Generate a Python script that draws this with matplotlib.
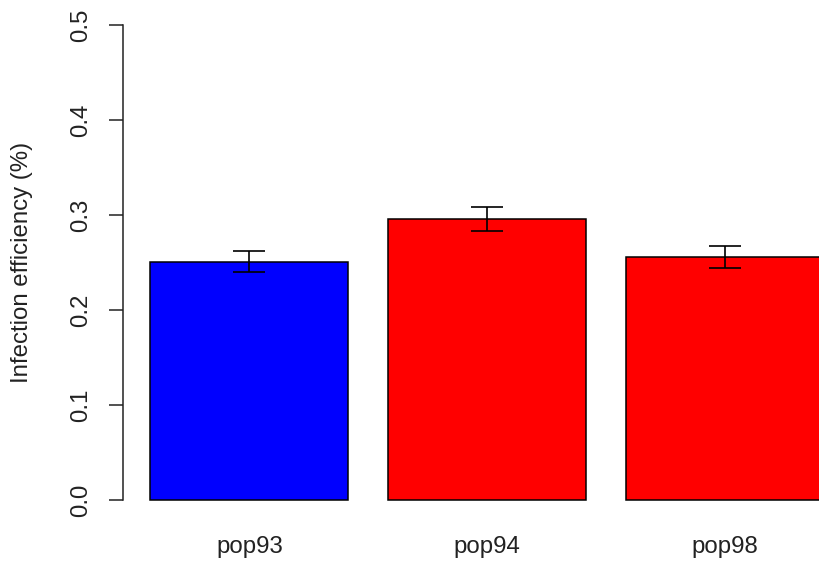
import matplotlib
matplotlib.use("Agg")
import matplotlib.pyplot as plt
import numpy as np

categories = ["pop93", "pop94", "pop98"]
values = [0.251, 0.296, 0.256]
errors = [0.0113, 0.0125, 0.0118]
colors = ["#0000ff", "#ff0000", "#ff0000"]
yticks = [0.0, 0.1, 0.2, 0.3, 0.4, 0.5]
ytick_labels = ["0.0", "0.1", "0.2", "0.3", "0.4", "0.5"]

plt.rcParams['font.family'] = ['Liberation Sans', 'DejaVu Sans']
FS = 17.3

W, H = 820, 564
fig = plt.figure(figsize=(W / 100, H / 100), dpi=100)

# pixel layout
x_left_px = 123.5
px_per_unit_x = 198.0
xlim = (0.064, 3.736)
x_right_px = x_left_px + (xlim[1] - xlim[0]) * px_per_unit_x
ylim = (-0.02, 0.52)
y0_px = 500.0
px_per_unit_y = 950.0
y_bottom_px = y0_px - (ylim[0] - 0) * px_per_unit_y
y_top_px = y0_px - ylim[1] * px_per_unit_y

ax = fig.add_axes([x_left_px / W, 1 - y_bottom_px / H,
                   (x_right_px - x_left_px) / W, (y_bottom_px - y_top_px) / H])

centers = [0.7 + 1.2 * i for i in range(len(categories))]
ax.bar(centers, values, width=1.0, color=colors, edgecolor="black", linewidth=1.1)
ax.errorbar(centers, values, yerr=errors, fmt="none", ecolor="black",
            elinewidth=1.2, capsize=11.2, capthick=1.2)

ax.set_xlim(*xlim)
ax.set_ylim(*ylim)

for s in ["top", "right", "bottom"]:
    ax.spines[s].set_visible(False)
ax.spines["left"].set_bounds(0, 0.5)
ax.spines["left"].set_linewidth(1.1)
ax.spines["left"].set_color("#222222")

ax.set_yticks(yticks)
ax.set_yticklabels(ytick_labels, rotation=90, va="center", ha="center",
                   fontsize=FS, color="#222222")
ax.tick_params(axis="y", length=10.4, width=1.1, color="#222222", pad=20)

ax.set_xticks(centers)
ax.set_xticklabels(categories, fontsize=FS, color="#222222")
ax.tick_params(axis="x", length=0, pad=12)

ax.set_ylabel("Infection efficiency (%)", fontsize=FS, color="#222222")
ax.yaxis.label.set_va("center")
ax.yaxis.set_label_coords((22 - x_left_px) / (x_right_px - x_left_px), 0.5)

fig.savefig("out.png", dpi=100)
